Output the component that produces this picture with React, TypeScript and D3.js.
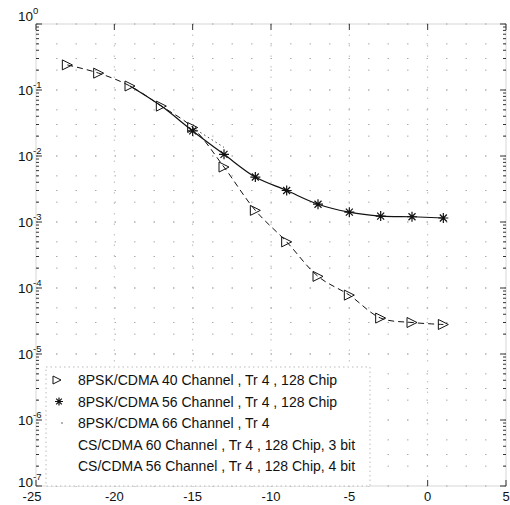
import * as d3 from "d3";

const W = 510;
const H = 505;
const PLOT = { left: 36, right: 506, top: 24, bottom: 486 };

const xTicks = [-25, -20, -15, -10, -5, 0, 5];
const yExps = [0, -1, -2, -3, -4, -5, -6, -7];

// 8PSK/CDMA 40 Channel, Tr 4, 128 Chip  (dashed, right triangles)
const s40X = [-23, -21, -19, -17, -15, -13, -11, -9, -7, -5, -3, -1, 1];
const s40Y = [0.24, 0.18, 0.115, 0.057, 0.027, 0.0068, 0.0015, 0.0005, 0.00015, 0.000078, 0.000035, 0.00003, 0.000028];

// 8PSK/CDMA 56 Channel, Tr 4, 128 Chip  (solid, stars)
const s56X = [-19, -17, -15, -13, -11, -9, -7, -5, -3, -1, 1];
const s56Y = [0.115, 0.057, 0.024, 0.0106, 0.0048, 0.003, 0.00186, 0.00141, 0.00123, 0.0012, 0.00115];

// 8PSK/CDMA 66 Channel, Tr 4  (dotted)
const s66X = [-15, -13];
const s66Y = [0.027, 0.0135];

const legendLabels = [
  "8PSK/CDMA 40 Channel , Tr 4 , 128 Chip",
  "8PSK/CDMA 56 Channel , Tr 4 , 128 Chip",
  "8PSK/CDMA 66 Channel , Tr 4",
  "CS/CDMA 60 Channel , Tr 4 , 128 Chip, 3 bit",
  "CS/CDMA 56 Channel , Tr 4 , 128 Chip, 4 bit",
];

const FONT = "'Liberation Sans', Arial, Helvetica, sans-serif";

const Tri = ({ x, y, s = 5 }: { x: number; y: number; s?: number }) => (
  <path
    d={`M${x - s},${y - s}L${x + s},${y}L${x - s},${y + s}Z`}
    fill="none"
    stroke="#111"
    strokeWidth={1}
  />
);

const Star = ({ x, y, s = 5 }: { x: number; y: number; s?: number }) => {
  const d = s * 0.7;
  return (
    <path
      d={`M${x - s},${y}L${x + s},${y}M${x},${y - s}L${x},${y + s}M${x - d},${y - d}L${x + d},${y + d}M${x - d},${y + d}L${x + d},${y - d}`}
      stroke="#111"
      strokeWidth={1.2}
    />
  );
};

export default function App() {
  const x = d3.scaleLinear().domain([-25, 5]).range([PLOT.left, PLOT.right]);
  const y = d3.scaleLog().domain([1, 1e-7]).range([PLOT.top, PLOT.bottom]);

  const line = d3
    .line<[number, number]>()
    .x((d) => x(d[0]))
    .y((d) => y(d[1]))
    .curve(d3.curveCatmullRom);

  const p40 = s40X.map((v, i) => [v, s40Y[i]] as [number, number]);
  const p56 = s56X.map((v, i) => [v, s56Y[i]] as [number, number]);
  const p66 = s66X.map((v, i) => [v, s66Y[i]] as [number, number]);

  const minor: number[] = [];
  const gridY: number[] = [];
  yExps.forEach((e) => {
    if (e === 0) return;
    for (let m = 2; m <= 9; m++) minor.push(m * Math.pow(10, e));
    [2, 3, 5].forEach((m) => gridY.push(m * Math.pow(10, e)));
  });

  const legendTop = 367;
  const legendRow = 21.5;

  return (
    <svg width={W} height={H} style={{ position: "absolute", left: 0, top: 0, background: "#fff" }}>
      <rect width={W} height={H} fill="#fff" />
      {/* grid */}
      <g stroke="#888" strokeWidth={1}>
        {yExps.map((e) => (
          <line key={"gd" + e} x1={PLOT.left} x2={PLOT.right} y1={y(Math.pow(10, e))} y2={y(Math.pow(10, e))} strokeDasharray="1.5 18" strokeDashoffset={-20} />
        ))}
        {gridY.map((v, i) => (
          <line key={"gm" + i} x1={PLOT.left} x2={PLOT.right} y1={y(v)} y2={y(v)} strokeDasharray="1.5 18" strokeDashoffset={-20} opacity={0.7} />
        ))}
        {xTicks.slice(1, -1).map((t) => (
          <line key={"gx" + t} x1={x(t)} x2={x(t)} y1={PLOT.top} y2={PLOT.bottom} strokeDasharray="1.5 9" opacity={0.55} />
        ))}
      </g>
      {/* axes box */}
      <rect x={PLOT.left} y={PLOT.top} width={PLOT.right - PLOT.left} height={PLOT.bottom - PLOT.top} fill="none" stroke="#ccc" strokeWidth={0.8} />
      <g stroke="#333" strokeWidth={1}>
        {yExps.map((e) => (
          <g key={"yt" + e}>
            <line x1={PLOT.left} x2={PLOT.left + 6} y1={y(Math.pow(10, e))} y2={y(Math.pow(10, e))} />
            <line x1={PLOT.right} x2={PLOT.right - 6} y1={y(Math.pow(10, e))} y2={y(Math.pow(10, e))} />
          </g>
        ))}
        {minor.map((v, i) => (
          <g key={"ym" + i}>
            <line x1={PLOT.left} x2={PLOT.left + 3} y1={y(v)} y2={y(v)} />
            <line x1={PLOT.right} x2={PLOT.right - 3} y1={y(v)} y2={y(v)} />
          </g>
        ))}
        {xTicks.map((t) => (
          <g key={"xt" + t}>
            <line x1={x(t)} x2={x(t)} y1={PLOT.bottom} y2={PLOT.bottom - 6} />
            <line x1={x(t)} x2={x(t)} y1={PLOT.top} y2={PLOT.top + 6} />
          </g>
        ))}
      </g>
      {/* legend */}
      <rect x={46} y={legendTop} width={370 - 46} height={PLOT.bottom - legendTop} fill="#fff" stroke="#aaa" strokeWidth={0.8} strokeDasharray="1.5 3" />
      <Tri x={57} y={legendTop + 13} s={4} />
      <Star x={59} y={legendTop + 13 + legendRow} s={4} />
      <circle cx={62} cy={legendTop + 13 + legendRow * 2} r={0.8} fill="#555" />
      <g fontFamily={FONT} fontSize={14} fill="#111">
        {legendLabels.map((l, i) => (
          <text key={l} x={78} y={legendTop + 18 + i * legendRow}>
            {l}
          </text>
        ))}
      </g>
      {/* tick labels */}
      <g fontFamily={FONT} fill="#111">
        {yExps.map((e) => (
          <text key={"yl" + e} x={18} y={y(Math.pow(10, e)) + (e === 0 ? -3 : e === -7 ? 1 : 5)} fontSize={13.5}>
            10
            <tspan dy={-7} fontSize={9.5}>
              {e === 0 ? "0" : String(e)}
            </tspan>
          </text>
        ))}
        {xTicks.map((t) => (
          <text key={"xl" + t} x={x(t) - (t === -25 ? 4 : 0)} y={501} fontSize={13} textAnchor="middle">
            {t}
          </text>
        ))}
      </g>
      {/* series */}
      <path d={line(p40) || ""} fill="none" stroke="#111" strokeWidth={1} strokeDasharray="6 4" />
      <path d={line(p56) || ""} fill="none" stroke="#111" strokeWidth={1.2} />
      <path d={line(p66) || ""} fill="none" stroke="#444" strokeWidth={1} strokeDasharray="1.5 3" />
      {p40.map((d, i) => (
        <Tri key={"t" + i} x={x(d[0])} y={y(d[1])} />
      ))}
      {p56.slice(2).map((d, i) => (
        <Star key={"s" + i} x={x(d[0])} y={y(d[1])} />
      ))}
    </svg>
  );
}
